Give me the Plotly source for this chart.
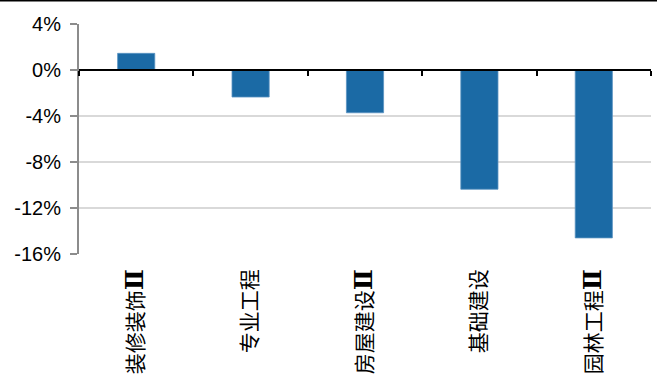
import plotly.graph_objects as go

# Sub-sector returns (%)
categories = ["装修装饰Ⅱ", "专业工程", "房屋建设Ⅱ", "基础建设", "园林工程Ⅱ"]
returns_pct = [1.45, -2.35, -3.72, -10.37, -14.6]
y_ticks = [4, 0, -4, -8, -12, -16]
y_tick_text = [f"{v}%" for v in y_ticks]

# Roman numeral drawn in a heavier serif face
tick_text = [c.replace("Ⅱ", "<span style='font-family:DejaVu Serif;font-weight:bold;font-size:25px'>Ⅱ</span>")
             for c in categories]

W, H = 657, 389
M_L, M_R, M_T, M_B = 79, 6, 24, 135
plot_h = H - M_T - M_B
plot_w = W - M_L - M_R
y_min, y_max = -16, 4
zero_pos = (0 - y_min) / (y_max - y_min)

fig = go.Figure()
fig.add_trace(go.Bar(
    x=categories, y=returns_pct,
    marker=dict(color="#1b6aa5", line=dict(color="#5b93c2", width=0.8)),
    hoverinfo="x+y",
))
# helper trace so the zero-line axis knows the categories
fig.add_trace(go.Scatter(
    x=categories, y=returns_pct, xaxis="x2", yaxis="y",
    mode="markers", marker=dict(opacity=0), hoverinfo="skip", showlegend=False,
))

fig.update_layout(
    width=W, height=H,
    margin=dict(l=M_L, r=M_R, t=M_T, b=M_B),
    paper_bgcolor="white", plot_bgcolor="white",
    showlegend=False,
    bargap=0.675,
    font=dict(family="Liberation Sans, Arial, sans-serif", color="black"),
    xaxis=dict(
        type="category", range=[-0.5, 4.5],
        tickmode="array", tickvals=categories, ticktext=tick_text,
        showline=False, showgrid=False, zeroline=False,
        ticks="", tickangle=-90, ticklabelstandoff=10,
        tickfont=dict(family="Noto Sans CJK SC", size=21, color="black"),
    ),
    xaxis2=dict(
        type="category", overlaying="x", anchor="free", position=zero_pos,
        range=[-0.5, 4.5], showticklabels=False, showgrid=False, zeroline=False,
        showline=True, linecolor="black", linewidth=1.5,
        ticks="outside", tickson="boundaries", ticklen=5, tickwidth=1.5, tickcolor="black",
    ),
    yaxis=dict(
        range=[y_min, y_max], tickmode="array", tickvals=y_ticks, ticktext=y_tick_text,
        showgrid=True, gridcolor="#d9d9d9", gridwidth=1.5,
        zeroline=False,
        showline=True, linecolor="#8c8c8c", linewidth=2,
        ticks="outside", ticklen=7, tickcolor="#8c8c8c", tickwidth=1.5,
        ticklabelstandoff=5,
        tickfont=dict(family="Liberation Sans, Arial, sans-serif", size=20, color="black"),
    ),
    shapes=[dict(
        type="line", xref="paper", yref="paper",
        x0=-M_L / plot_w, x1=(W - M_L) / plot_w,
        y0=(plot_h + M_T - 0.75) / plot_h, y1=(plot_h + M_T - 0.75) / plot_h,
        line=dict(color="black", width=1.5),
    )],
)

fig.write_html("out.html")
